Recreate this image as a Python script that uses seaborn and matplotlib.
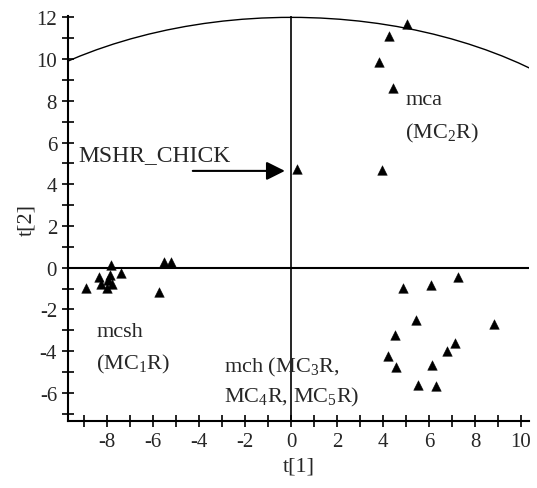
import numpy as np
import pandas as pd
import matplotlib
matplotlib.use("Agg")
import matplotlib.pyplot as plt
from matplotlib.ticker import MultipleLocator
from matplotlib.patches import Ellipse
import seaborn as sns

# ---- data ----
mca_t1 = [5.04, 4.26, 3.83, 4.43, 3.96]
mca_t2 = [11.67, 11.10, 9.86, 8.60, 4.69]

chick_t1 = [0.26]
chick_t2 = [4.74]

mcsh_t1 = [-8.91, -8.38, -7.84, -7.87, -7.40, -8.27, -8.01, -7.80, -7.95, -5.52, -5.22, -5.73]
mcsh_t2 = [-0.96, -0.45, 0.11, -0.33, -0.24, -0.77, -0.97, -0.77, -0.60, 0.27, 0.27, -1.16]

mch_t1 = [7.25, 4.86, 6.09, 5.42, 8.83, 4.52, 7.13, 6.77, 4.23, 4.57, 6.14, 5.53, 6.29]
mch_t2 = [-0.45, -0.97, -0.81, -2.49, -2.71, -3.24, -3.60, -3.99, -4.22, -4.75, -4.67, -5.60, -5.66]

ellipse_a = 17.2   # Hotelling T2 ellipse semi-axes
ellipse_b = 12.0

x_label = "t[1]"
y_label = "t[2]"

df = pd.DataFrame({
    "t1": mca_t1 + chick_t1 + mcsh_t1 + mch_t1,
    "t2": mca_t2 + chick_t2 + mcsh_t2 + mch_t2,
    "group": (["mca"] * len(mca_t1) + ["chick"] * len(chick_t1)
              + ["mcsh"] * len(mcsh_t1) + ["mch"] * len(mch_t1)),
})

sns.set_style("ticks")
plt.rcParams["font.family"] = ["Liberation Serif", "DejaVu Serif"]
plt.rcParams["mathtext.fontset"] = "custom"
plt.rcParams["mathtext.rm"] = "Liberation Serif"
plt.rcParams["mathtext.it"] = "Liberation Serif"
plt.rcParams["mathtext.default"] = "regular"
plt.rcParams["axes.unicode_minus"] = False

fig = plt.figure(figsize=(5.37, 4.89), dpi=100)
ax = fig.add_axes([0.127, 0.137, 0.985 - 0.127, 0.965 - 0.137])

sns.scatterplot(data=df, x="t1", y="t2", marker="^", color="black",
                s=48, edgecolor="black", linewidth=0.3, legend=False, ax=ax, zorder=3)

ax.add_patch(Ellipse((0, 0), 2 * ellipse_a, 2 * ellipse_b, fill=False,
                     edgecolor="black", lw=1.0, zorder=2))
ax.axhline(0, color="black", lw=1.5, zorder=1)
ax.axvline(0, color="black", lw=1.2, zorder=1)

ax.set_xlim(-9.7, 10.35)
ax.set_ylim(-7.35, 12.06)

ax.xaxis.set_major_locator(MultipleLocator(2))
ax.xaxis.set_minor_locator(MultipleLocator(1))
ax.yaxis.set_major_locator(MultipleLocator(2))
ax.yaxis.set_minor_locator(MultipleLocator(1))
ax.tick_params(which="both", direction="inout", length=8, width=1.2, color="black")
ax.tick_params(which="major", labelsize=15, pad=4)

for s in ["top", "right"]:
    ax.spines[s].set_visible(False)
for s in ["left", "bottom"]:
    ax.spines[s].set_linewidth(1.5)
    ax.spines[s].set_color("black")

ax.set_xlabel(x_label, fontsize=16, labelpad=4)
ax.set_ylabel(y_label, fontsize=16, labelpad=0)

fs = 16
ax.text(-9.26, 5.41, "MSHR_CHICK", fontsize=17, va="center", ha="left")
ax.annotate("", xy=(-0.15, 4.64), xytext=(-4.4, 4.64),
            arrowprops=dict(arrowstyle="-|>", mutation_scale=28, lw=1.5, color="black"))
ax.text(4.96, 8.04, "mca", fontsize=fs, va="center", ha="left")
ax.text(4.96, 6.5, "(MC$_2$R)", fontsize=fs, va="center", ha="left")
ax.text(-8.48, -3.06, "mcsh", fontsize=fs, va="center", ha="left")
ax.text(-8.48, -4.59, "(MC$_1$R)", fontsize=fs, va="center", ha="left")
ax.text(-2.91, -4.74, "mch (MC$_3$R,", fontsize=fs, va="center", ha="left")
ax.text(-2.91, -6.17, "MC$_4$R, MC$_5$R)", fontsize=fs, va="center", ha="left")

fig.savefig("out.png", dpi=100)
